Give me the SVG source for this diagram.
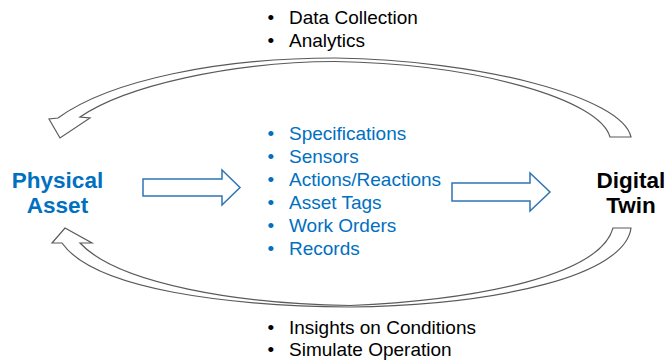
<svg xmlns="http://www.w3.org/2000/svg" width="668" height="360" viewBox="0 0 668 360">
<style>
.t{font-family:"Liberation Sans",Arial,sans-serif;font-size:19px;fill:#000}
.b{fill:#0070C0}
.h{font-family:"Liberation Sans",Arial,sans-serif;font-size:22.5px;font-weight:bold;text-anchor:middle}
.ga{fill:#fff;stroke:#5a5a5a;stroke-width:1.2;stroke-linejoin:miter}
.ba{fill:#fff;stroke:#2E75B6;stroke-width:1.5}
</style>
<rect width="668" height="360" fill="#fff"/>
<g id="connectors">
<path class="ga" d="M631,137 C622,97 480,60 335,58 C220,58 110,80 58,118 L49,119 L60,138 L90,118 L80,117 C125,86 230,62 335,61.5 C480,64 600,100 610,137 Z"/>
<path class="ga" d="M631,228 C625,275 500,305 350,307 C230,306 95,290 62,243 L52,243 L65,228 L92,243 L80,243 C118,284 240,304 350,305.5 C480,300 600,275 613,228 Z"/>
<path class="ba" d="M143,179 L222,179 L222,170 L240,187.5 L222,205 L222,196 L143,196 Z"/>
<path class="ba" d="M452,183 L530,183 L530,173 L550,192 L530,211 L530,201 L452,201 Z"/>
</g>
<g id="physical-asset">
<text class="h b" x="57.5" y="188">Physical</text>
<text class="h b" x="57.5" y="213">Asset</text>
</g>
<g id="digital-twin">
<text class="h" x="631" y="188" fill="#000">Digital</text>
<text class="h" x="631" y="213" fill="#000">Twin</text>
</g>
<g id="top-list">
<text class="t" x="267.5" y="24">•</text><text class="t" x="289" y="24">Data Collection</text>
<text class="t" x="267.5" y="47">•</text><text class="t" x="289" y="47">Analytics</text>
</g>
<g id="center-list">
<text class="t b" x="267.5" y="140">•</text><text class="t b" x="289" y="140">Specifications</text>
<text class="t b" x="267.5" y="163">•</text><text class="t b" x="289" y="163">Sensors</text>
<text class="t b" x="267.5" y="186">•</text><text class="t b" x="289" y="186">Actions/Reactions</text>
<text class="t b" x="267.5" y="209">•</text><text class="t b" x="289" y="209">Asset Tags</text>
<text class="t b" x="267.5" y="232">•</text><text class="t b" x="289" y="232">Work Orders</text>
<text class="t b" x="267.5" y="255">•</text><text class="t b" x="289" y="255">Records</text>
</g>
<g id="bottom-list">
<text class="t" x="267.5" y="334">•</text><text class="t" x="289" y="334">Insights on Conditions</text>
<text class="t" x="267.5" y="356">•</text><text class="t" x="289" y="356">Simulate Operation</text>
</g>
</svg>
